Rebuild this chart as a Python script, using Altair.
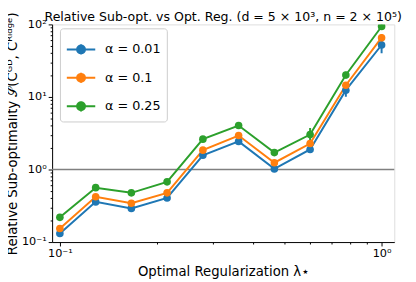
import altair as alt
import pandas as pd

lam = [0.1, 0.1292, 0.1668, 0.2154, 0.2783, 0.3594, 0.4642, 0.5995, 0.7743, 1.0]
series = ["α = 0.01", "α = 0.1", "α = 0.25"]
colors = ["#1f77b4", "#ff7f0e", "#2ca02c"]
vals = {
    "α = 0.01": [0.131, 0.358, 0.291, 0.405, 1.57, 2.44, 1.02, 1.89, 12.4, 52.0],
    "α = 0.1": [0.154, 0.422, 0.343, 0.477, 1.85, 2.94, 1.24, 2.28, 14.5, 65.6],
    "α = 0.25": [0.219, 0.562, 0.477, 0.676, 2.62, 4.04, 1.71, 3.03, 20.1, 93.7],
}
errs = {
    "α = 0.01": [0.01, 0.02, 0.02, 0.02, 0.1, 0.15, 0.05, 0.15, 2.3, 12.0],
    "α = 0.1": [0.01, 0.02, 0.02, 0.02, 0.1, 0.15, 0.06, 0.2, 1.5, 8.0],
    "α = 0.25": [0.015, 0.03, 0.02, 0.04, 0.15, 0.2, 0.1, 0.7, 2.2, 6.0],
}
title_text = ["Relative Sub-opt. vs Opt. Reg. (d = 5 × 10³, n = 2 × 10⁵)"]

rows = []
for s in series:
    for x, v, e in zip(lam, vals[s], errs[s]):
        rows.append({"lam": x, "val": v, "lo": v - e, "hi": v + e, "series": s})
df = pd.DataFrame(rows)

major_test = "abs(log(datum.value)/LN10 - round(log(datum.value)/LN10)) < 0.001"
sup_expr = ("abs(datum.value-0.1)<1e-6 ? '10⁻¹' : abs(datum.value-1)<1e-6 ? '10⁰' : "
            "abs(datum.value-10)<1e-6 ? '10¹' : abs(datum.value-100)<1e-6 ? '10²' : ''")

xticks = [0.1, 0.2, 0.3, 0.4, 0.5, 0.6, 0.7, 0.8, 0.9, 1.0]
yticks = []
for dec in [0.1, 1, 10]:
    for k in range(1, 10):
        yticks.append(round(dec * k, 6))
yticks.append(100)

xscale = alt.Scale(type="log", domain=[0.0946, 1.095], nice=False)
yscale = alt.Scale(type="log", domain=[0.1, 100], nice=False)

font = "DejaVu Sans"

xaxis = alt.Axis(
    title="Optimal Regularization λ⋆", values=xticks, labelExpr=sup_expr,
    grid=False, tickColor="black", domainColor="black",
    tickSize={"condition": {"test": major_test, "value": 4}, "value": 2},
    labelFontSize=11.5, titleFontSize=13.5, titleFontWeight="normal",
    labelColor="black", titleColor="black", labelFont=font, titleFont=font,
    titlePadding=6, labelPadding=2,
)
yaxis = alt.Axis(
    title="Relative Sub-optimality 𝒮(Cᴳᴰ, Cᴿⁱᵈᵍᵉ)", values=yticks, labelExpr=sup_expr,
    grid=False, tickColor="black", domainColor="black",
    tickSize={"condition": {"test": major_test, "value": 4}, "value": 2},
    labelFontSize=11.5, titleFontSize=13.5, titleFontWeight="normal",
    labelColor="black", titleColor="black", labelFont=font, titleFont=font,
    titlePadding=2, labelPadding=2,
)

sym = ("M-1,0H1M0,-0.36V0.36"
       "M-0.28,0A0.28,0.28 0 1,1 0.28,0A0.28,0.28 0 1,1 -0.28,0Z")

legend = alt.Legend(
    title=None, orient="none", legendX=8, legendY=4,
    symbolType=sym, symbolSize=841, symbolStrokeWidth=2,
    labelFontSize=13, labelFont=font, labelColor="black",
    fillColor="white", strokeColor="#cccccc", cornerRadius=3,
    padding=6, rowPadding=4, labelOffset=9, symbolOpacity=1,
)
color = alt.Color("series:N", scale=alt.Scale(domain=series, range=colors), legend=legend)

base = alt.Chart(df)

hline = alt.Chart(pd.DataFrame({"y": [1.0]})).mark_rule(color="#808080", strokeWidth=1.5).encode(
    y=alt.Y("y:Q", scale=yscale, axis=yaxis)
)

lines = base.mark_line(strokeWidth=2, clip=True).encode(
    x=alt.X("lam:Q", scale=xscale, axis=xaxis),
    y=alt.Y("val:Q", scale=yscale, axis=yaxis),
    color=color,
    detail="series:N",
)
bars = base.mark_rule(strokeWidth=2, clip=True).encode(
    x=alt.X("lam:Q", scale=xscale),
    y=alt.Y("lo:Q", scale=yscale),
    y2="hi:Q",
    color=color,
)
pts = base.mark_point(filled=True, size=60, opacity=1, clip=True).encode(
    x=alt.X("lam:Q", scale=xscale),
    y=alt.Y("val:Q", scale=yscale),
    color=color,
)
title = alt.Chart(pd.DataFrame({"t": title_text})).mark_text(
    font=font, fontSize=12.8, color="black", align="center", baseline="middle",
).encode(text="t:N", x=alt.value(174.5), y=alt.value(-7.5))

chart = alt.layer(hline, lines, bars, pts, title).properties(
    width=349, height=222,
    autosize=alt.AutoSizeParams(type="none"),
    padding={"left": 45, "top": 14, "right": 14, "bottom": 38},
).configure_view(stroke="black", strokeWidth=1).configure(background="white")

chart.save("out.html", embed_options={"renderer": "svg", "actions": False})
